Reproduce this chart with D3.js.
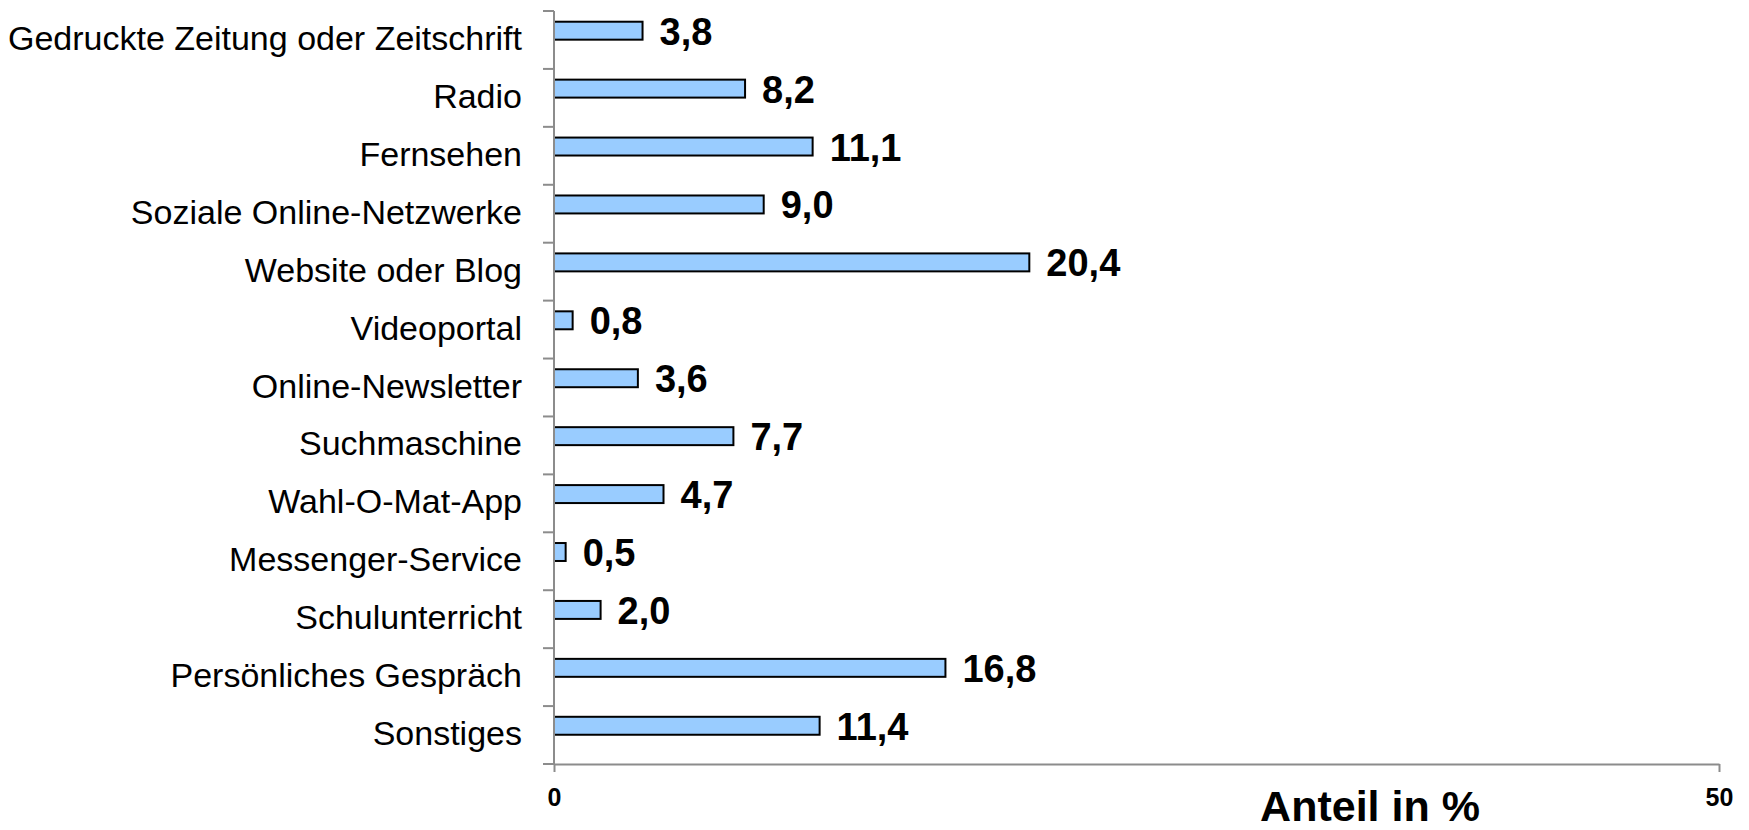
<!DOCTYPE html>
<html>
<head>
<meta charset="utf-8">
<script src="https://cdn.jsdelivr.net/npm/d3@7"></script>
<style>
    body { margin: 0; background: #fff; }
    svg { display: block; font-family: "Liberation Sans", Arial, sans-serif; }
    .cat-label { font-size: 34px; fill: #000; }
    .val-label { font-size: 38px; font-weight: bold; fill: #000; }
    .x-axis text { font-size: 25px; font-weight: bold; fill: #000; font-family: "Liberation Sans", Arial, sans-serif; }
    .axis-title { font-size: 43px; font-weight: bold; fill: #000; }
</style>
</head>
<body>
<svg></svg>
<script>
const categories = [
    "Gedruckte Zeitung oder Zeitschrift",
    "Radio",
    "Fernsehen",
    "Soziale Online-Netzwerke",
    "Website oder Blog",
    "Videoportal",
    "Online-Newsletter",
    "Suchmaschine",
    "Wahl-O-Mat-App",
    "Messenger-Service",
    "Schulunterricht",
    "Persönliches Gespräch",
    "Sonstiges"
];

const values = [3.8, 8.2, 11.1, 9.0, 20.4, 0.8, 3.6, 7.7, 4.7, 0.5, 2.0, 16.8, 11.4];

const xTicks = [0, 50];
const axisTitle = "Anteil in %";

const width = 1749;
const height = 830;

const svg = d3.select("svg")
    .attr("width", width)
    .attr("height", height);

const x = d3.scaleLinear()
    .domain([0, 50])
    .range([554, 1719]);

const y = d3.scaleBand()
    .domain(categories)
    .range([11, 764])
    .padding(0);

const bw = y.bandwidth();
const axisColor = "#8c8c8c";

// bars
svg.selectAll("rect.bar")
    .data(values)
    .enter().append("rect")
    .attr("class", "bar")
    .attr("x", x(0))
    .attr("y", (d, i) => y(categories[i]) + bw * 0.185)
    .attr("width", d => x(d) - x(0))
    .attr("height", bw * 0.31)
    .attr("fill", "#99ccff")
    .attr("stroke", "#000")
    .attr("stroke-width", 2);

// value labels
svg.selectAll("text.val-label")
    .data(values)
    .enter().append("text")
    .attr("class", "val-label")
    .attr("x", d => x(d) + 17)
    .attr("y", (d, i) => y(categories[i]) + bw * 0.34 + 14)
    .text(d => d.toFixed(1).replace(".", ","));

// y axis line + ticks at band boundaries
const yAxis = svg.append("g").attr("class", "y-axis");
yAxis.append("line")
    .attr("x1", x(0)).attr("x2", x(0))
    .attr("y1", y.range()[0]).attr("y2", y.range()[1])
    .attr("stroke", axisColor).attr("stroke-width", 2);

const bounds = categories.map(c => y(c)).concat([y.range()[1]]);
yAxis.selectAll("line.tick")
    .data(bounds)
    .enter().append("line")
    .attr("class", "tick")
    .attr("x1", x(0) - 11).attr("x2", x(0))
    .attr("y1", d => d).attr("y2", d => d)
    .attr("stroke", axisColor).attr("stroke-width", 2);

// category labels
svg.selectAll("text.cat-label")
    .data(categories)
    .enter().append("text")
    .attr("class", "cat-label")
    .attr("text-anchor", "end")
    .attr("x", 522)
    .attr("y", d => y(d) + bw / 2 + 10)
    .text(d => d);

// x axis
const xAxis = svg.append("g")
    .attr("class", "x-axis")
    .attr("transform", `translate(0,${y.range()[1]})`)
    .call(d3.axisBottom(x).tickValues(xTicks).tickSize(8).tickSizeOuter(0).tickPadding(16).tickFormat(d3.format("d")));

xAxis.select(".domain").attr("stroke", axisColor).attr("stroke-width", 2);
xAxis.selectAll(".tick line").attr("stroke", axisColor).attr("stroke-width", 2);

svg.append("text")
    .attr("class", "axis-title")
    .attr("text-anchor", "middle")
    .attr("x", 1370)
    .attr("y", 821)
    .text(axisTitle);
</script>
</body>
</html>
